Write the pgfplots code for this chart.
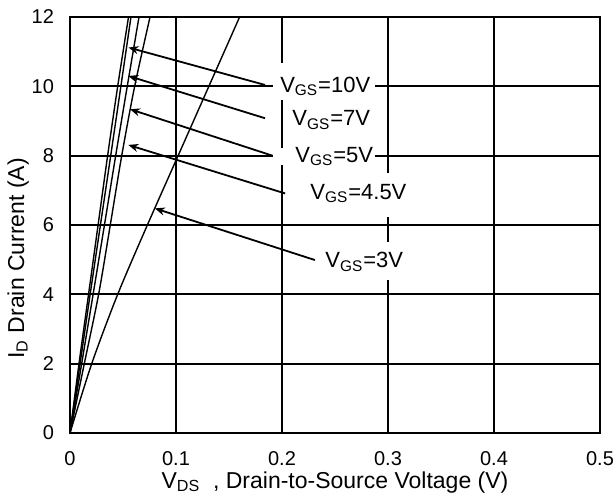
\documentclass[border=0pt]{standalone}
\usepackage{fontspec}
\setmainfont{Liberation Sans}
\usepackage{pgfplots}
\pgfplotsset{compat=1.18}
\usetikzlibrary{arrows.meta}
\begin{document}
\begin{tikzpicture}
\begin{axis}[
  width=265pt, height=208pt, scale only axis,
  xmin=0, xmax=0.5, ymin=0, ymax=12,
  xtick={0,0.1,0.2,0.3,0.4,0.5}, ytick={0,2,4,6,8,10,12},
  xticklabels={0,0.1,0.2,0.3,0.4,0.5},
  grid=major, major grid style={black, line width=0.9pt},
  axis line style={line width=1pt},
  major tick length=0pt,
  /pgf/number format/assume math mode=true,
  ticklabel style={font=\fontsize{10}{11}\selectfont},
  xticklabel style={inner sep=0pt, yshift=-9pt},
  yticklabel style={xshift=-4.5pt},
  xlabel={V\textsubscript{DS}\ \ , Drain-to-Source Voltage (V)},
  xlabel style={at={(axis description cs:0.5,0)}, anchor=base, inner sep=0pt, yshift=-27.5pt, font=\fontsize{11.5}{13}\selectfont},
  ylabel={I\textsubscript{D} Drain Current (A)},
  ylabel style={at={(axis description cs:-0.098,0.42)}, anchor=center, font=\fontsize{11.5}{13}\selectfont},
  clip=false,
]
% VGS=10V
\addplot[black, line width=0.7pt, smooth] coordinates {(0,0) (0.0085,2) (0.0175,4) (0.0265,6) (0.0355,8) (0.045,10) (0.0552,12)};
% VGS=7V
\addplot[black, line width=0.7pt, smooth] coordinates {(0,0) (0.0095,2) (0.019,4) (0.0287,6) (0.0384,8) (0.048,10) (0.0575,12)};
% VGS=5V
\addplot[black, line width=0.7pt, smooth] coordinates {(0,0) (0.011,2) (0.0218,4) (0.0325,6) (0.0431,8) (0.054,10) (0.0651,12)};
% VGS=4.5V
\addplot[black, line width=0.7pt, smooth] coordinates {(0,0) (0.0135,2) (0.027,4) (0.038,6) (0.0488,8) (0.061,10) (0.0755,12)};
% VGS=3V
\addplot[black, line width=0.7pt, smooth] coordinates {(0,0) (0.0205,2) (0.045,4) (0.073,6) (0.102,8) (0.131,10) (0.160,12)};

% arrows
\draw[-{Stealth[length=5pt,width=4pt]}, line width=0.9pt] (axis cs:0.184,10.04) -- (axis cs:0.0552,11.12);
\draw[-{Stealth[length=5pt,width=4pt]}, line width=0.9pt] (axis cs:0.184,9.08) -- (axis cs:0.055,10.3);
\draw[-{Stealth[length=5pt,width=4pt]}, line width=0.9pt] (axis cs:0.192,7.99) -- (axis cs:0.0566,9.34);
\draw[-{Stealth[length=5pt,width=4pt]}, line width=0.9pt] (axis cs:0.203,6.91) -- (axis cs:0.055,8.31);
\draw[-{Stealth[length=5pt,width=4pt]}, line width=0.9pt] (axis cs:0.231,4.99) -- (axis cs:0.08,6.48);

% white boxes covering grid
\fill[white] (axis cs:0.1915,9.6) rectangle (axis cs:0.2877,10.67);
\fill[white] (axis cs:0.1915,7.73) rectangle (axis cs:0.2877,8.22);
\fill[white] (axis cs:0.217,6.23) rectangle (axis cs:0.321,7.5);
\fill[white] (axis cs:0.234,4.41) rectangle (axis cs:0.316,5.52);

% labels
\node[anchor=west, inner sep=0pt, font=\fontsize{11}{13}\selectfont] at (axis cs:0.198,10.0) {V\textsubscript{GS}=10V};
\node[anchor=west, inner sep=1pt, fill=white, font=\fontsize{11}{13}\selectfont] at (axis cs:0.2075,9.03) {V\textsubscript{GS}=7V};
\node[anchor=west, inner sep=0pt, font=\fontsize{11}{13}\selectfont] at (axis cs:0.2123,7.97) {V\textsubscript{GS}=5V};
\node[anchor=west, inner sep=0pt, font=\fontsize{11}{13}\selectfont] at (axis cs:0.2264,6.91) {V\textsubscript{GS}=4.5V};
\node[anchor=west, inner sep=0pt, font=\fontsize{11}{13}\selectfont] at (axis cs:0.2406,4.94) {V\textsubscript{GS}=3V};
\end{axis}
\pgfresetboundingbox
\path (current axis.south west) ++(-35pt,-30.5pt) rectangle ([xshift=6.5pt,yshift=8.5pt]current axis.north east);
\end{tikzpicture}
\end{document}
